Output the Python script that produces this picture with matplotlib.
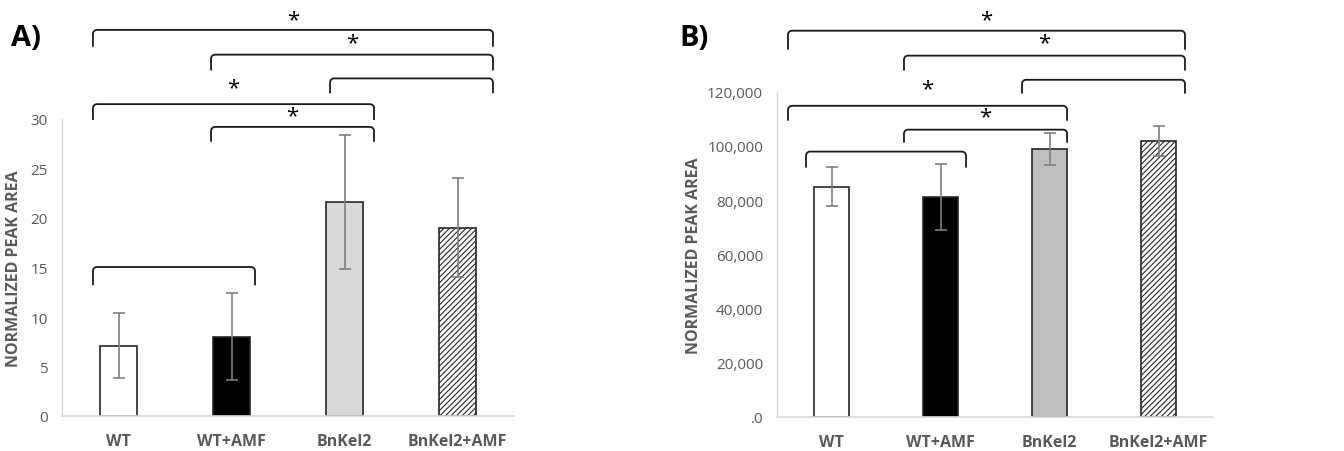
import matplotlib
matplotlib.use("Agg")
import matplotlib.pyplot as plt
import numpy as np

plt.rcParams['font.family'] = ['Open Sans', 'DejaVu Sans']
plt.rcParams['hatch.linewidth'] = 0.8

categories = ["WT", "WT+AMF", "BnKel2", "BnKel2+AMF"]
a_values = [7.1, 8.0, 21.6, 19.0]
a_errors = [3.3, 4.4, 6.8, 5.0]
b_values = [85000, 81000, 98800, 101800]
b_errors = [7200, 12200, 6000, 5400]
a_ticks = [0, 5, 10, 15, 20, 25, 30]
a_ticklabels = ["0", "5", "10", "15", "20", "25", "30"]
b_ticks = [0, 20000, 40000, 60000, 80000, 100000, 120000]
b_ticklabels = [".0", "20,000", "40,000", "60,000", "80,000", "100,000", "120,000"]

# brackets: (x start, x end, y top, y leg end, has star, star offset px)
a_brackets = [
    (-0.226, 3.314, 39.0, 37.3, True, 10),
    (0.819, 3.314, 36.5, 34.9, True, 12),
    (1.872, 3.314, 34.1, 32.6, False, 0),
    (-0.226, 2.261, 31.5, 29.9, True, 16),
    (0.819, 2.261, 29.2, 27.7, True, 11),
    (-0.226, 1.208, 15.05, 13.2, False, 0),
]
b_brackets = [
    (-0.399, 3.243, 142500, 135500, True, 11),
    (0.665, 3.243, 133300, 127800, True, 13),
    (1.748, 3.243, 124400, 119300, False, 0),
    (-0.399, 2.161, 114800, 109300, True, 17),
    (0.665, 2.161, 106000, 101200, True, 13),
    (-0.234, 1.234, 97900, 92000, False, 0),
]

fig = plt.figure(figsize=(13.44, 4.52), dpi=100)
axA = fig.add_axes([62/1344, 1-417/452, (514-62)/1344, (417-120)/452])
axB = fig.add_axes([777/1344, 1-418/452, (1213-777)/1344, (418-92.7)/452])

GREY = "#595959"


def draw_bracket(ax, x0, x1, ytop, yleg, r=4):
    p0 = ax.transData.transform((0, 0))
    p1 = ax.transData.transform((1, 1))
    sx = p1[0] - p0[0]
    sy = p1[1] - p0[1]
    rx, ry = r / sx, r / sy
    t = np.linspace(0, np.pi/2, 8)
    lx = x0 + rx - rx*np.cos(t)
    ly = ytop - ry + ry*np.sin(t)
    rxs = x1 - rx + rx*np.sin(t)
    rys = ytop - ry*(1 - np.cos(t))
    xs = np.concatenate([[x0], lx, rxs, [x1]])
    ys = np.concatenate([[yleg], ly, rys, [yleg]])
    ax.plot(xs, ys, color="#1a1a1a", lw=1.3, clip_on=False, solid_capstyle='butt')


def panel(ax, values, errors, ticks, ticklabels, ymax, brackets, grey_col):
    x = np.arange(len(categories))
    fills = ["white", "black", grey_col, "white"]
    hatches = [None, None, None, "//////"]
    for i in range(len(categories)):
        ax.bar(x[i], values[i], width=0.32, color=fills[i], edgecolor="#262626",
               linewidth=1.2, hatch=hatches[i], zorder=2)
    ax.errorbar(x, values, yerr=errors, fmt='none', ecolor="#7f7f7f",
                elinewidth=1.2, capsize=4, capthick=1.2, zorder=3)
    ax.set_xlim(-0.5, 3.5)
    ax.set_ylim(0, ymax)
    ax.set_yticks(ticks)
    ax.set_yticklabels(ticklabels, color=GREY, fontsize=11)
    ax.set_xticks(x)
    ax.set_xticklabels(categories, color=GREY, fontsize=11.5, fontweight='bold')
    ax.tick_params(axis='both', length=0)
    ax.tick_params(axis='x', pad=12)
    ax.tick_params(axis='y', pad=10)
    for s in ["top", "right"]:
        ax.spines[s].set_visible(False)
    ax.spines["left"].set_color("#d9d9d9")
    ax.spines["bottom"].set_color("#d9d9d9")
    ax.spines["left"].set_linewidth(1.0)
    ax.spines["bottom"].set_linewidth(1.2)
    ax.set_ylabel("NORMALIZED PEAK AREA", color=GREY, fontsize=11.5, fontweight='bold')
    for (x0, x1, yt, yl, star, off) in brackets:
        draw_bracket(ax, x0, x1, yt, yl)
        if star:
            ax.annotate("*", xy=((x0+x1)/2, yt), xytext=(0, off), textcoords='offset pixels',
                        ha='center', va='center', fontsize=16, color='black',
                        annotation_clip=False)


panel(axA, a_values, a_errors, a_ticks, a_ticklabels, 30, a_brackets, "#d9d9d9")
panel(axB, b_values, b_errors, b_ticks, b_ticklabels, 120000, b_brackets, "#bfbfbf")
axA.yaxis.set_label_coords(-40/452, 0.5)
axB.yaxis.set_label_coords(-75/436, 0.5)

fig.text(11/1344, 1-39/452, "A)", fontsize=21, fontweight='bold', va='center', ha='left')
fig.text(679/1344, 1-39/452, "B)", fontsize=21, fontweight='bold', va='center', ha='left')

fig.savefig("out.png", dpi=100)
